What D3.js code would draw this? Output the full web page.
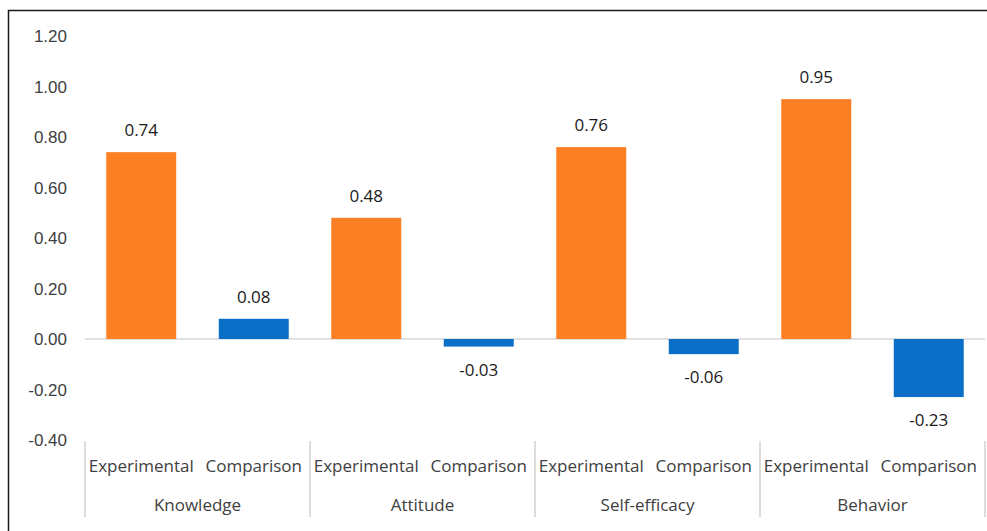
<!DOCTYPE html>
<html>
<head>
<meta charset="utf-8">
<script src="https://cdn.jsdelivr.net/npm/d3@7"></script>
<style>
  body { margin: 0; background: #fff; }
  svg { display: block; font-family: "Open Sans", "Noto Sans", sans-serif; }
</style>
</head>
<body>
<svg id="chart" width="987" height="531"></svg>
<script>
// Data
const categories = ["Knowledge", "Attitude", "Self-efficacy", "Behavior"];
const groups = ["Experimental", "Comparison"];
const experimentalValues = [0.74, 0.48, 0.76, 0.95];
const comparisonValues = [0.08, -0.03, -0.06, -0.23];
const yTicks = [-0.4, -0.2, 0, 0.2, 0.4, 0.6, 0.8, 1.0, 1.2];
const colours = {Experimental: "#fd7f24", Comparison: "#0a6fc6"};

// Plain hyphen for negatives, like the original
const fmt = d3.formatLocale({decimal: ".", thousands: ",", grouping: [3], currency: ["", ""], minus: "-"}).format(".2f");

const svg = d3.select("#chart");

// Outer frame (right and bottom edges fall outside the picture)
svg.append("rect")
    .attr("x", 8.5).attr("y", 10.5)
    .attr("width", 990).attr("height", 540)
    .attr("fill", "none")
    .attr("stroke", "#1a1a1a")
    .attr("stroke-width", 1.5);

const plot = {left: 85, right: 985, top: 36, bottom: 440};

const y = d3.scaleLinear()
    .domain([-0.4, 1.2])
    .range([plot.bottom, plot.top]);

const xCat = d3.scaleBand()
    .domain(categories)
    .range([plot.left, plot.right]);

const xGroup = d3.scaleBand()
    .domain(groups)
    .range([0, xCat.bandwidth()])
    .paddingInner(0.378)
    .paddingOuter(0.189);

// Y axis labels
const yAxis = svg.append("g")
    .attr("transform", `translate(${plot.left - 18}, 0)`)
    .call(d3.axisLeft(y).tickValues(yTicks).tickFormat(fmt).tickSize(0).tickPadding(0));
yAxis.select(".domain").remove();
yAxis.selectAll("text")
    .attr("fill", "#404040")
    .style("font-size", "17px")
    .attr("dy", "0.35em");

// Zero line
svg.append("line")
    .attr("x1", plot.left).attr("x2", plot.right)
    .attr("y1", y(0)).attr("y2", y(0))
    .attr("stroke", "#d9d9d9")
    .attr("stroke-width", 1.5);

// Build records
const records = [];
categories.forEach((c, i) => {
    records.push({cat: c, group: "Experimental", value: experimentalValues[i]});
    records.push({cat: c, group: "Comparison", value: comparisonValues[i]});
});

// Bars
svg.append("g").selectAll("rect")
    .data(records)
    .join("rect")
    .attr("x", d => xCat(d.cat) + xGroup(d.group))
    .attr("width", xGroup.bandwidth())
    .attr("y", d => y(Math.max(0, d.value)))
    .attr("height", d => Math.abs(y(d.value) - y(0)))
    .attr("fill", d => colours[d.group]);

// Data labels
svg.append("g").selectAll("text")
    .data(records)
    .join("text")
    .attr("x", d => xCat(d.cat) + xGroup(d.group) + xGroup.bandwidth() / 2)
    .attr("y", d => d.value >= 0 ? y(d.value) - 22 : y(d.value) + 23)
    .attr("dy", "0.35em")
    .attr("text-anchor", "middle")
    .attr("fill", "#1a1a1a")
    .style("font-size", "17px")
    .text(d => fmt(d.value));

// Category separators
svg.append("g").selectAll("line")
    .data(categories.concat([null]))
    .join("line")
    .attr("x1", (d, i) => plot.left + i * xCat.bandwidth())
    .attr("x2", (d, i) => plot.left + i * xCat.bandwidth())
    .attr("y1", 441).attr("y2", 517)
    .attr("stroke", "#d0d0d0")
    .attr("stroke-width", 1.5);

// Group labels
svg.append("g").selectAll("text")
    .data(records)
    .join("text")
    .attr("x", d => xCat(d.cat) + xGroup(d.group) + xGroup.bandwidth() / 2)
    .attr("y", 466)
    .attr("dy", "0.35em")
    .attr("text-anchor", "middle")
    .attr("fill", "#404040")
    .style("font-size", "17px")
    .text(d => d.group);

// Category labels
svg.append("g").selectAll("text")
    .data(categories)
    .join("text")
    .attr("x", d => xCat(d) + xCat.bandwidth() / 2)
    .attr("y", 505)
    .attr("dy", "0.35em")
    .attr("text-anchor", "middle")
    .attr("fill", "#404040")
    .style("font-size", "17px")
    .text(d => d);
</script>
</body>
</html>
